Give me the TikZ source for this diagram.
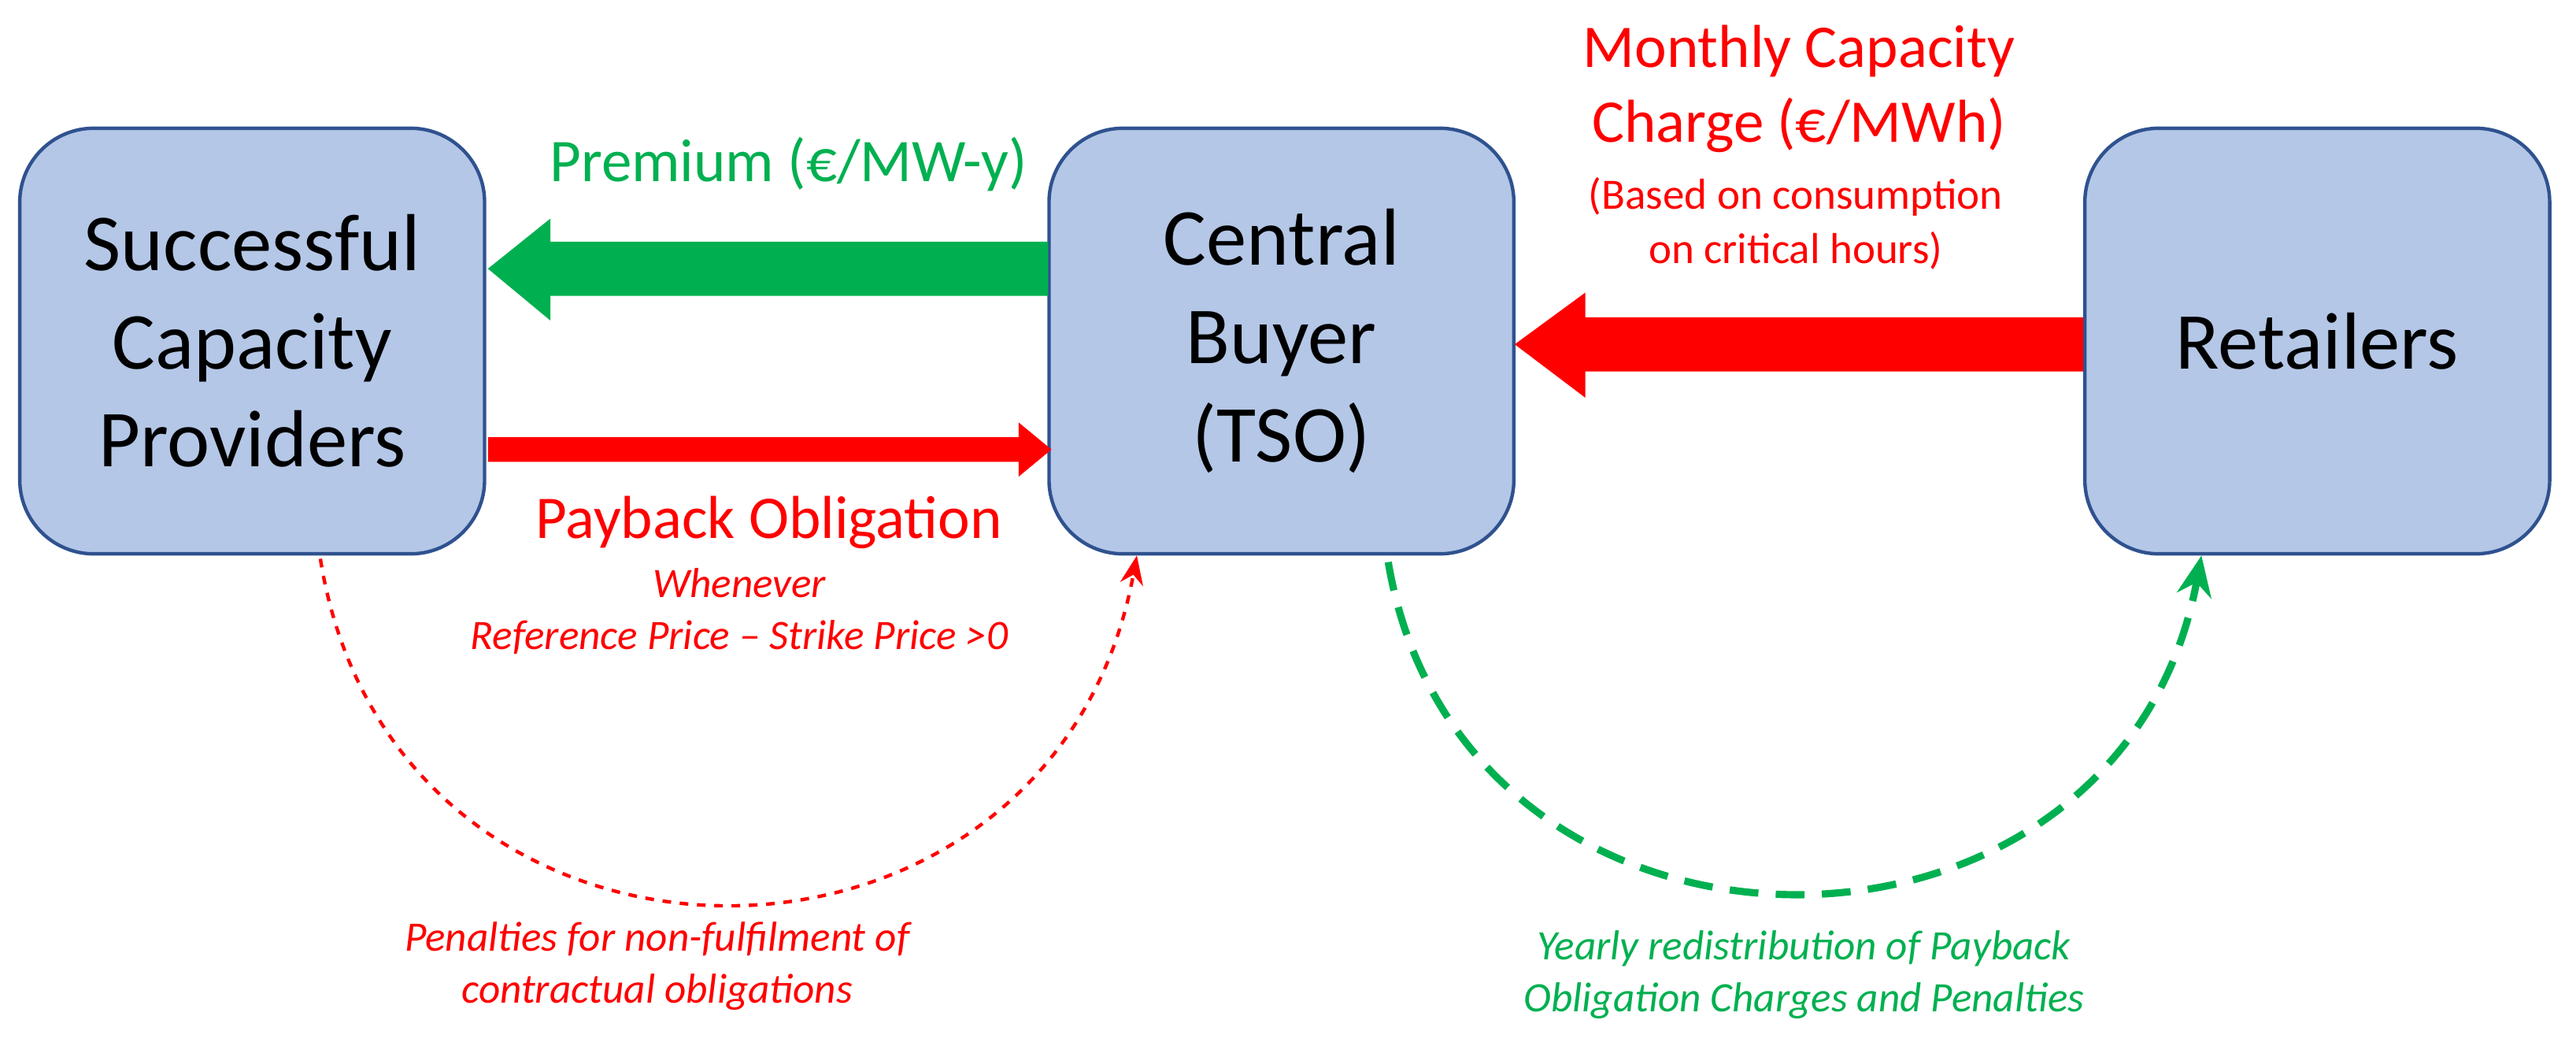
\documentclass[tikz,border=0pt]{standalone}
\usepackage{fontspec}
\setmainfont{Carlito}
\usetikzlibrary{arrows.meta}
\definecolor{boxfill}{RGB}{180,199,231}
\definecolor{boxdraw}{RGB}{47,82,143}
\definecolor{gr}{RGB}{0,176,80}
\definecolor{rd}{RGB}{255,0,0}
\begin{document}
\begin{tikzpicture}[x=0.02cm,y=-0.02cm,
  box/.style={draw=boxdraw,line width=1.2pt,fill=boxfill,rounded corners=0.9cm,minimum width=5.66cm,minimum height=5.18cm,align=center,font=\fontsize{28}{34}\selectfont},
  big/.style={font=\fontsize{21}{26}\selectfont},
  sm/.style={font=\fontsize{15}{19}\selectfont},
  it/.style={font=\fontsize{14.5}{18}\selectfont\itshape}]
\useasboundingbox (0,0) rectangle (1568,643);
\node[box] (L) at (153.5,207.5) {Successful\\Capacity\\Providers};
\node[box] (C) at (780,207.5) {Central\\Buyer\\(TSO)};
\node[box] (R) at (1410.5,207.5) {Retailers};
% green arrow
\fill[gr] (638,147) -- (335,147) -- (335,133) -- (297,163.5) -- (335,195) -- (335,180) -- (638,180) -- cycle;
% red thin arrow
\fill[rd] (297,266) -- (620,266) -- (620,257) -- (640,273.5) -- (620,290) -- (620,281) -- (297,281) -- cycle;
% red big arrow
\fill[rd] (1268,193) -- (965,193) -- (965,178) -- (922,209.5) -- (965,242) -- (965,226) -- (1268,226) -- cycle;
\node[gr,big] (t1) at (480,100) {Premium (€/MW-y)};
\node[rd,big] (t2) at (468,318) {Payback Obligation};
\node[rd,it,align=center] (t3) at (450,372) {Whenever\\Reference Price – Strike Price >0};
\node[rd,big,align=center] (t4) at (1095,54) {Monthly Capacity\\Charge (€/MWh)};
\node[rd,sm,align=center] (t5) at (1093,136) {(Based on consumption\\on critical hours)};
\node[rd,it,align=center] (t6) at (400,588) {Penalties for non-fulfilment of\\contractual obligations};
\node[gr,it,align=center] (t7) at (1098,593) {Yearly redistribution of Payback\\Obligation Charges and Penalties};
\coordinate (a1) at (195,340);
\coordinate (a2) at (692,338);
\draw[rd,dashed,line width=1.2pt,-{Stealth[length=10pt,width=8pt]}] (a1) .. controls (240,620) and (640,620) .. (a2);
\coordinate (b1) at (845,342);
\coordinate (b2) at (1340,338);
\draw[gr,dashed,line width=2.5pt,dash pattern=on 10pt off 6pt,-{Stealth[length=14pt,width=12pt]}] (b1) .. controls (890,610) and (1290,610) .. (b2);
\end{tikzpicture}
\end{document}
